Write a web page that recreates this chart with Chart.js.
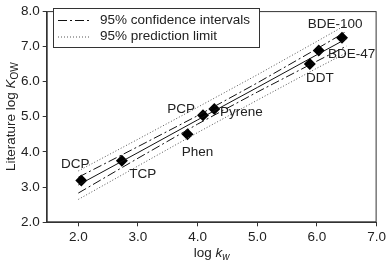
<!DOCTYPE html>
<html>
<head>
<meta charset="utf-8">
<script src="https://cdn.jsdelivr.net/npm/chart.js@4.4.0/dist/chart.umd.min.js"></script>
<style>
  html, body { margin: 0; padding: 0; background: #fff; }
  #wrap { width: 389px; height: 265px; }
</style>
</head>
<body>
<div id="wrap"><canvas id="c"></canvas></div>
<script>
// compounds
const names = ['DCP', 'TCP', 'Phen', 'PCP', 'Pyrene', 'DDT', 'BDE-47', 'BDE-100'];
const logKw = [2.05, 2.73, 3.83, 4.09, 4.28, 5.88, 6.03, 6.42];
const logKow = [3.19, 3.75, 4.50, 5.04, 5.22, 6.50, 6.88, 7.24];

// regression line and bands
const bandX = [2.0, 3.0, 4.0, 5.0, 6.0, 6.5];
const fitY = [3.06, 3.98, 4.91, 5.83, 6.76, 7.22];
const confUpper = [3.28, 4.15, 5.03, 5.96, 6.93, 7.43];
const confLower = [2.83, 3.82, 4.79, 5.70, 6.58, 7.01];
const predUpper = [3.46, 4.36, 5.27, 6.19, 7.14, 7.62];
const predLower = [2.65, 3.60, 4.55, 5.47, 6.38, 6.82];

const xTicks = [2, 3, 4, 5, 6, 7];
const yTicks = [2, 3, 4, 5, 6, 7, 8];

const legendLabels = ['95% confidence intervals', '95% prediction limit'];

const FONT = 'Liberation Sans, Arial, sans-serif';
const INK = '#222';
const CONF_DASH = [9, 3, 2, 3];
const PRED_DASH = [1, 2];

const xy = (xs, ys) => xs.map((x, i) => ({ x: x, y: ys[i] }));

function lineSet(ys, dash, color) {
  return {
    data: xy(bandX, ys),
    showLine: true,
    borderColor: color,
    borderWidth: 1,
    borderDash: dash,
    pointRadius: 0,
    fill: false,
  };
}

// offsets of the compound names from their markers (px)
const labelOffsets = [[-6, -16], [21, 14], [10, 18], [-22, -6], [27, 3], [10, 14], [33, 4], [-7, -14]];

const extras = {
  id: 'extras',
  afterDraw(chart) {
    const ctx = chart.ctx;
    const a = chart.chartArea;
    const xs = chart.scales.x, ys = chart.scales.y;
    ctx.save();

    // frame
    ctx.strokeStyle = '#333';
    ctx.lineWidth = 1;
    ctx.strokeRect(a.left + 0.5, a.top + 0.5, a.right - a.left - 1, a.bottom - a.top - 1);

    // point labels
    ctx.fillStyle = INK;
    ctx.font = '13.5px ' + FONT;
    ctx.textAlign = 'center';
    ctx.textBaseline = 'middle';
    names.forEach((n, i) => {
      const px = xs.getPixelForValue(logKw[i]);
      const py = ys.getPixelForValue(logKow[i]);
      ctx.fillText(n, px + labelOffsets[i][0], py + labelOffsets[i][1]);
    });

    // legend
    const lx = 53, ly = 8, lw = 206, lh = 39;
    ctx.fillStyle = '#fff';
    ctx.fillRect(lx, ly, lw, lh);
    ctx.strokeStyle = '#333';
    ctx.strokeRect(lx + 0.5, ly + 0.5, lw, lh);
    const rows = [[20, CONF_DASH, '#111'], [36.5, PRED_DASH, '#555']];
    rows.forEach((r, i) => {
      ctx.beginPath();
      ctx.setLineDash(r[1]);
      ctx.strokeStyle = r[2];
      ctx.moveTo(58, r[0] + 0.5);
      ctx.lineTo(90, r[0] + 0.5);
      ctx.stroke();
      ctx.setLineDash([]);
      ctx.fillStyle = INK;
      ctx.textAlign = 'left';
      ctx.fillText(legendLabels[i], 100, r[0]);
    });

    // axis titles with italic + subscript parts
    const cx = (a.left + a.right) / 2;
    ctx.textBaseline = 'alphabetic';
    const t1 = 'log ', t2 = 'k', t3 = 'w';
    ctx.font = '13.5px ' + FONT;
    const w1 = ctx.measureText(t1).width;
    ctx.font = 'italic 13.5px ' + FONT;
    const w2 = ctx.measureText(t2).width;
    ctx.font = 'italic 10px ' + FONT;
    const w3 = ctx.measureText(t3).width;
    let sx = cx - (w1 + w2 + w3) / 2;
    const by = 257;
    ctx.font = '13.5px ' + FONT;
    ctx.fillText(t1, sx, by);
    ctx.font = 'italic 13.5px ' + FONT;
    ctx.fillText(t2, sx + w1, by);
    ctx.font = 'italic 10px ' + FONT;
    ctx.fillText(t3, sx + w1 + w2, by + 3);

    const cy = (a.top + a.bottom) / 2;
    ctx.translate(15, cy);
    ctx.rotate(-Math.PI / 2);
    const s1 = 'Literature log ', s2 = 'K', s3 = 'OW';
    ctx.font = '13.5px ' + FONT;
    const v1 = ctx.measureText(s1).width;
    ctx.font = 'italic 13.5px ' + FONT;
    const v2 = ctx.measureText(s2).width;
    ctx.font = '10px ' + FONT;
    const v3 = ctx.measureText(s3).width;
    let tx = -(v1 + v2 + v3) / 2;
    ctx.font = '13.5px ' + FONT;
    ctx.fillText(s1, tx, 0);
    ctx.font = 'italic 13.5px ' + FONT;
    ctx.fillText(s2, tx + v1, 0);
    ctx.font = '10px ' + FONT;
    ctx.fillText(s3, tx + v1 + v2, 3);

    ctx.restore();
  }
};

new Chart(document.getElementById('c'), {
  type: 'scatter',
  data: {
    datasets: [
      lineSet(predUpper, PRED_DASH, '#555'),
      lineSet(predLower, PRED_DASH, '#555'),
      lineSet(confUpper, CONF_DASH, '#111'),
      lineSet(confLower, CONF_DASH, '#111'),
      lineSet(fitY, [], '#111'),
      {
        data: xy(logKw, logKow),
        pointStyle: 'rectRot',
        pointRadius: 6,
        pointHoverRadius: 6,
        backgroundColor: '#000',
        borderColor: '#000',
        borderWidth: 0,
        showLine: false,
      },
    ],
  },
  options: {
    responsive: true,
    maintainAspectRatio: false,
    animation: false,
    events: [],
    layout: { padding: { top: 5, right: 9.7, left: 0, bottom: 0 } },
    plugins: { legend: { display: false }, tooltip: { enabled: false } },
    scales: {
      x: {
        type: 'linear',
        min: 1.47,
        max: 7.0,
        afterBuildTicks: (s) => { s.ticks = xTicks.map(v => ({ value: v })); },
        afterFit: (s) => { s.height = 42.7; },
        grid: { drawOnChartArea: false, drawTicks: true, tickLength: 4, color: '#333' },
        border: { display: true, color: '#333' },
        ticks: {
          color: INK,
          font: { family: FONT, size: 13.5 },
          padding: 3,
          maxRotation: 0,
          callback: (v) => v.toFixed(1),
        },
      },
      y: {
        type: 'linear',
        min: 2.0,
        max: 8.0,
        afterBuildTicks: (s) => { s.ticks = yTicks.map(v => ({ value: v })); },
        afterFit: (s) => { s.width = 46.7; },
        grid: { drawOnChartArea: false, drawTicks: true, tickLength: 4, color: '#333' },
        border: { display: true, color: '#333' },
        ticks: {
          color: INK,
          font: { family: FONT, size: 13.5 },
          padding: 3,
          callback: (v) => v.toFixed(1),
        },
      },
    },
  },
  plugins: [extras],
});
</script>
</body>
</html>
